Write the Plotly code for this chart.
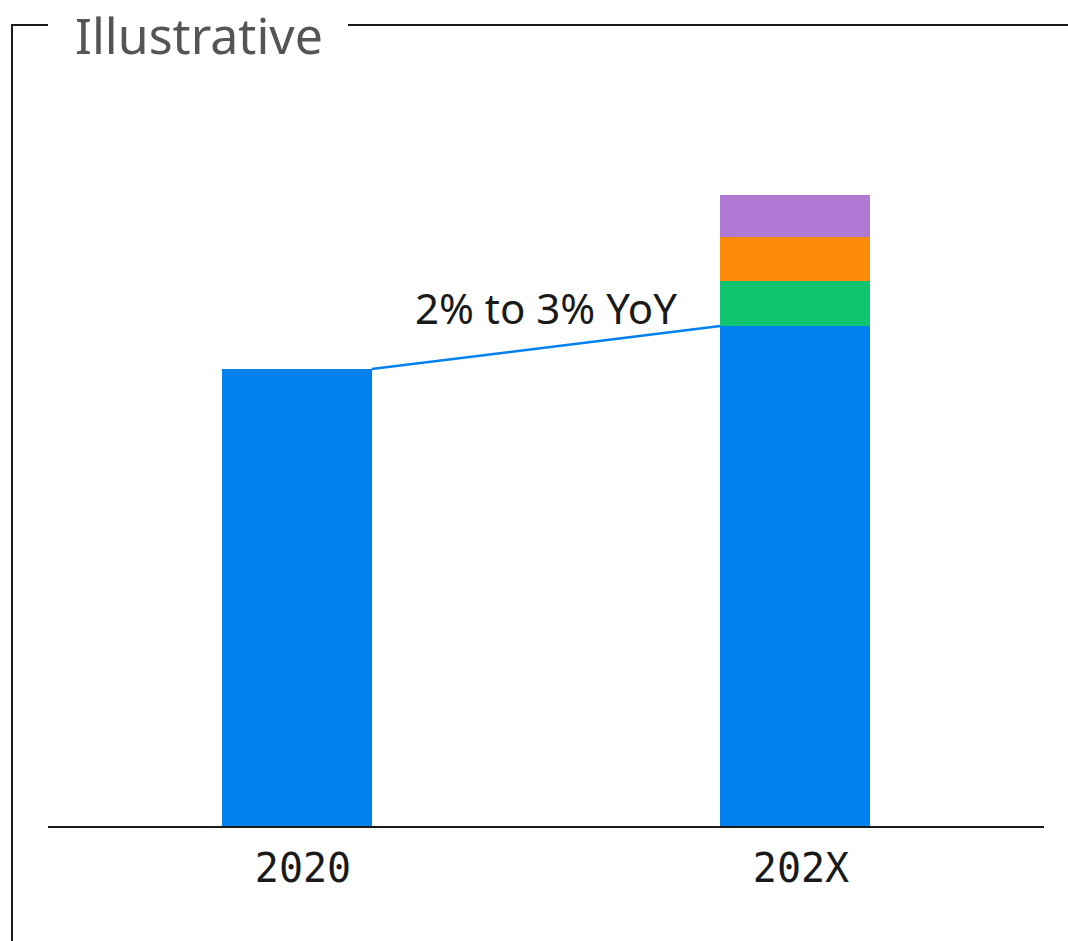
import plotly.graph_objects as go

# Data
categories = ["2020", "202X"]
base_values = [100.0, 100.0]
growth_values = [None, 9.4]
green_values = [None, 9.8]
orange_values = [None, 9.6]
purple_values = [None, 9.2]
growth_label = "2% to 3% YoY"
title_text = "Illustrative"

W, H = 1068, 941
BLUE = "#0081ee"
GREEN = "#10c46f"
ORANGE = "#ff8b0c"
PURPLE = "#b079d3"
BAR_W = 0.3

def px_x(p):
    return p / W

def px_y(p):
    return 1 - p / H

fig = go.Figure()
for vals, col in [
    (base_values, BLUE),
    (growth_values, BLUE),
    (green_values, GREEN),
    (orange_values, ORANGE),
    (purple_values, PURPLE),
]:
    fig.add_trace(go.Bar(
        x=[0, 1], y=vals, width=BAR_W,
        marker=dict(color=col, line=dict(width=0)),
        showlegend=False, hoverinfo="skip",
    ))

# connector between the two blue totals
fig.add_shape(type="line", xref="x", yref="y",
              x0=0 + BAR_W / 2, y0=base_values[0],
              x1=1 - BAR_W / 2, y1=base_values[1] + growth_values[1],
              line=dict(color=BLUE, width=2.5))

fig.add_annotation(x=0.5, y=113.4, xref="x", yref="y", text=growth_label,
                   showarrow=False, xanchor="center", yanchor="middle",
                   font=dict(family="Noto Sans", size=42, color="#1a1a1a"))

# frame around the chart with the title breaking the top edge
frame = dict(color="#1a1a1a", width=2)
fig.add_shape(type="line", xref="paper", yref="paper",
              x0=px_x(12), y0=px_y(25), x1=px_x(12), y1=px_y(945), line=frame)
fig.add_shape(type="line", xref="paper", yref="paper",
              x0=px_x(11), y0=px_y(25), x1=px_x(48), y1=px_y(25), line=frame)
fig.add_shape(type="line", xref="paper", yref="paper",
              x0=px_x(348), y0=px_y(25), x1=px_x(1070), y1=px_y(25), line=frame)

fig.add_annotation(x=px_x(74), y=1, xref="paper", yref="paper",
                   text=title_text, showarrow=False, xanchor="left", yanchor="top",
                   borderpad=0,
                   font=dict(family="Noto Sans", size=50, color="#555555"))

fig.update_layout(
    template="none",
    width=W, height=H,
    margin=dict(l=0, r=0, t=0, b=0),
    barmode="stack",
    plot_bgcolor="white", paper_bgcolor="white",
    xaxis=dict(
        domain=[px_x(48), px_x(1044)],
        range=[-0.5, 1.5],
        tickmode="array", tickvals=[0, 1], ticktext=categories,
        showgrid=False, zeroline=False,
        showline=True, linecolor="#1a1a1a", linewidth=2,
        ticks="", ticklabelstandoff=6, ticklabelshift=6,
        tickfont=dict(family="DejaVu Sans Mono", size=40, color="#1a1a1a"),
        automargin=False, fixedrange=True,
    ),
    yaxis=dict(
        domain=[px_y(826), px_y(25)],
        range=[0, 100 * 801 / 457],
        visible=False, showgrid=False, zeroline=False,
        automargin=False, fixedrange=True,
    ),
)

fig.write_html("out.html")
